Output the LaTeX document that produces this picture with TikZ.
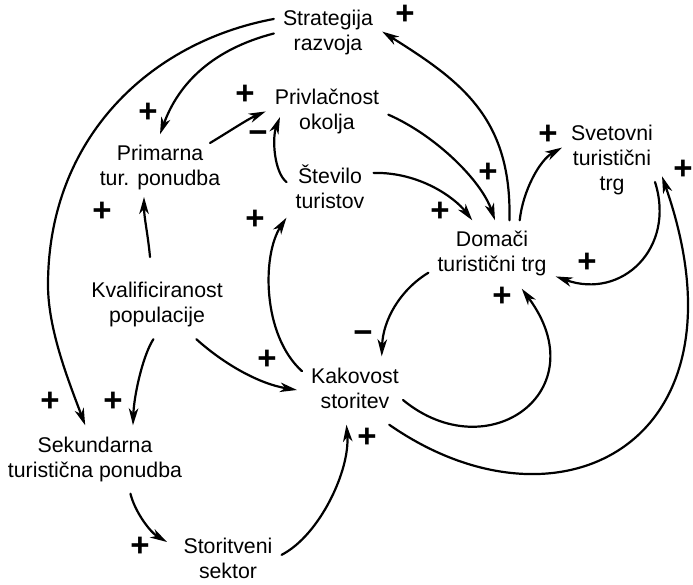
\documentclass[tikz,border=0pt]{standalone}
\usepackage{fontspec}
\setmainfont{Liberation Sans}
\usetikzlibrary{arrows.meta}
\begin{document}
\begin{tikzpicture}[x=1pt,y=-1pt,
  concept/.style={align=center, inner sep=9pt, font=\fontsize{21.3}{25}\selectfont},
  sign/.style={inner sep=0pt, font=\fontsize{33}{33}\selectfont\bfseries},
  link/.style={line width=2.2pt, line cap=round, -{Stealth[length=17pt,width=9.5pt,inset=5pt]}},
]
\fill[white] (0,0) rectangle (693,585);
\useasboundingbox (0,0) rectangle (693,585);

% concepts
\node[concept] (strat) at (328,33.5) {\strut Strategija\\razvoja\strut};
\node[concept] (priv) at (327,112.5) {\strut Privlačnost\\okolja\strut};
\node[concept] (prim) at (160,168.5) {\strut Primarna\\tur. ponudba\strut};
\node[concept] (stev) at (330,190.5) {\strut Število\\turistov\strut};
\node[concept] (svet) at (612,161) {\strut Svetovni\\turistični\\trg\strut};
\node[concept] (dom) at (492,254.5) {\strut Domači\\turistični trg\strut};
\node[concept] (kval) at (157,305) {\strut Kvalificiranost\\populacije\strut};
\node[concept] (kak) at (355,390.5) {\strut Kakovost\\storitev\strut};
\node[concept] (sek) at (95,459.5) {\strut Sekundarna\\turistična ponudba\strut};
\node[concept] (stor) at (228,560.5) {\strut Storitveni\\sektor\strut};

% causal links
\draw[link] (strat.165) .. controls (150,42) and (48,138) .. (48,285)
            .. controls (48,330) and (69,382) .. (sek.106);
\draw[link] (strat.180) .. controls (214,49) and (179,82) .. (prim.90);
\draw[link] ([shift={(50,-25.5)}]prim.center) .. controls (230,131) and (248,119) .. (priv.179);
\draw[link] (stev.169) .. controls (274,172) and (272,138) .. ([shift={(-47,4.5)}]priv.center);
\draw[link] ([shift={(-7,-48)}]kval.center) .. controls (148,235) and (144,217) .. ([shift={(-16,28.5)}]prim.center);
\draw[link] (kak.160) .. controls (262,335) and (262,255) .. (stev.212);
\draw[link] (kval.319) .. controls (225,365) and (260,384) .. ([shift={(-58,-0.5)}]kak.center);
\draw[link] (kval.264) .. controls (143,355) and (134,395) .. (sek.42);
\draw[link] (sek.316) .. controls (135,512) and (150,532) .. ([shift={(-61,-18.5)}]stor.center);
\draw[link] (stor.6) .. controls (320,535) and (350,470) .. (kak.256);
\draw[link] (dom.196) .. controls (400,290) and (383,320) .. (kak.52);
\draw[link] ([shift={(48,9.5)}]kak.center) .. controls (488,470) and (598,391) .. (dom.311);
\draw[link] (kak.315) .. controls (559,543) and (755,443) .. (svet.343);
\draw[link] ([shift={(43,21)}]svet.center) .. controls (676,248) and (622,300) .. (dom.341);
\draw[link] (dom.51) .. controls (523,190) and (540,160) .. (svet.165);
\draw[link] (dom.63) .. controls (512,118) and (461,81) .. (strat.2);
\draw[link] (priv.358) .. controls (435,135) and (481,180) .. (dom.85);
\draw[link] (stev.22) .. controls (420,172) and (455,198) .. (dom.120);

% polarities
\node[sign] (p1) at (405,15) {+};
\node[sign] (p2) at (148,113) {+};
\node[sign] (p3) at (245,95) {+};
\node[sign] (m1) at (258,137) {−};
\node[sign] (p4) at (102,212) {+};
\node[sign] (p5) at (255,220) {+};
\node[sign] (p6) at (488,173) {+};
\node[sign] (p7) at (440,212) {+};
\node[sign] (p8) at (548,135) {+};
\node[sign] (p9) at (683,170) {+};
\node[sign] (p10) at (587,263) {+};
\node[sign] (p11) at (502,297) {+};
\node[sign] (m2) at (363,337) {−};
\node[sign] (p12) at (267,360) {+};
\node[sign] (p13) at (50,402) {+};
\node[sign] (p14) at (113,402) {+};
\node[sign] (p15) at (367,438) {+};
\node[sign] (p16) at (140,547) {+};
\end{tikzpicture}
\end{document}
